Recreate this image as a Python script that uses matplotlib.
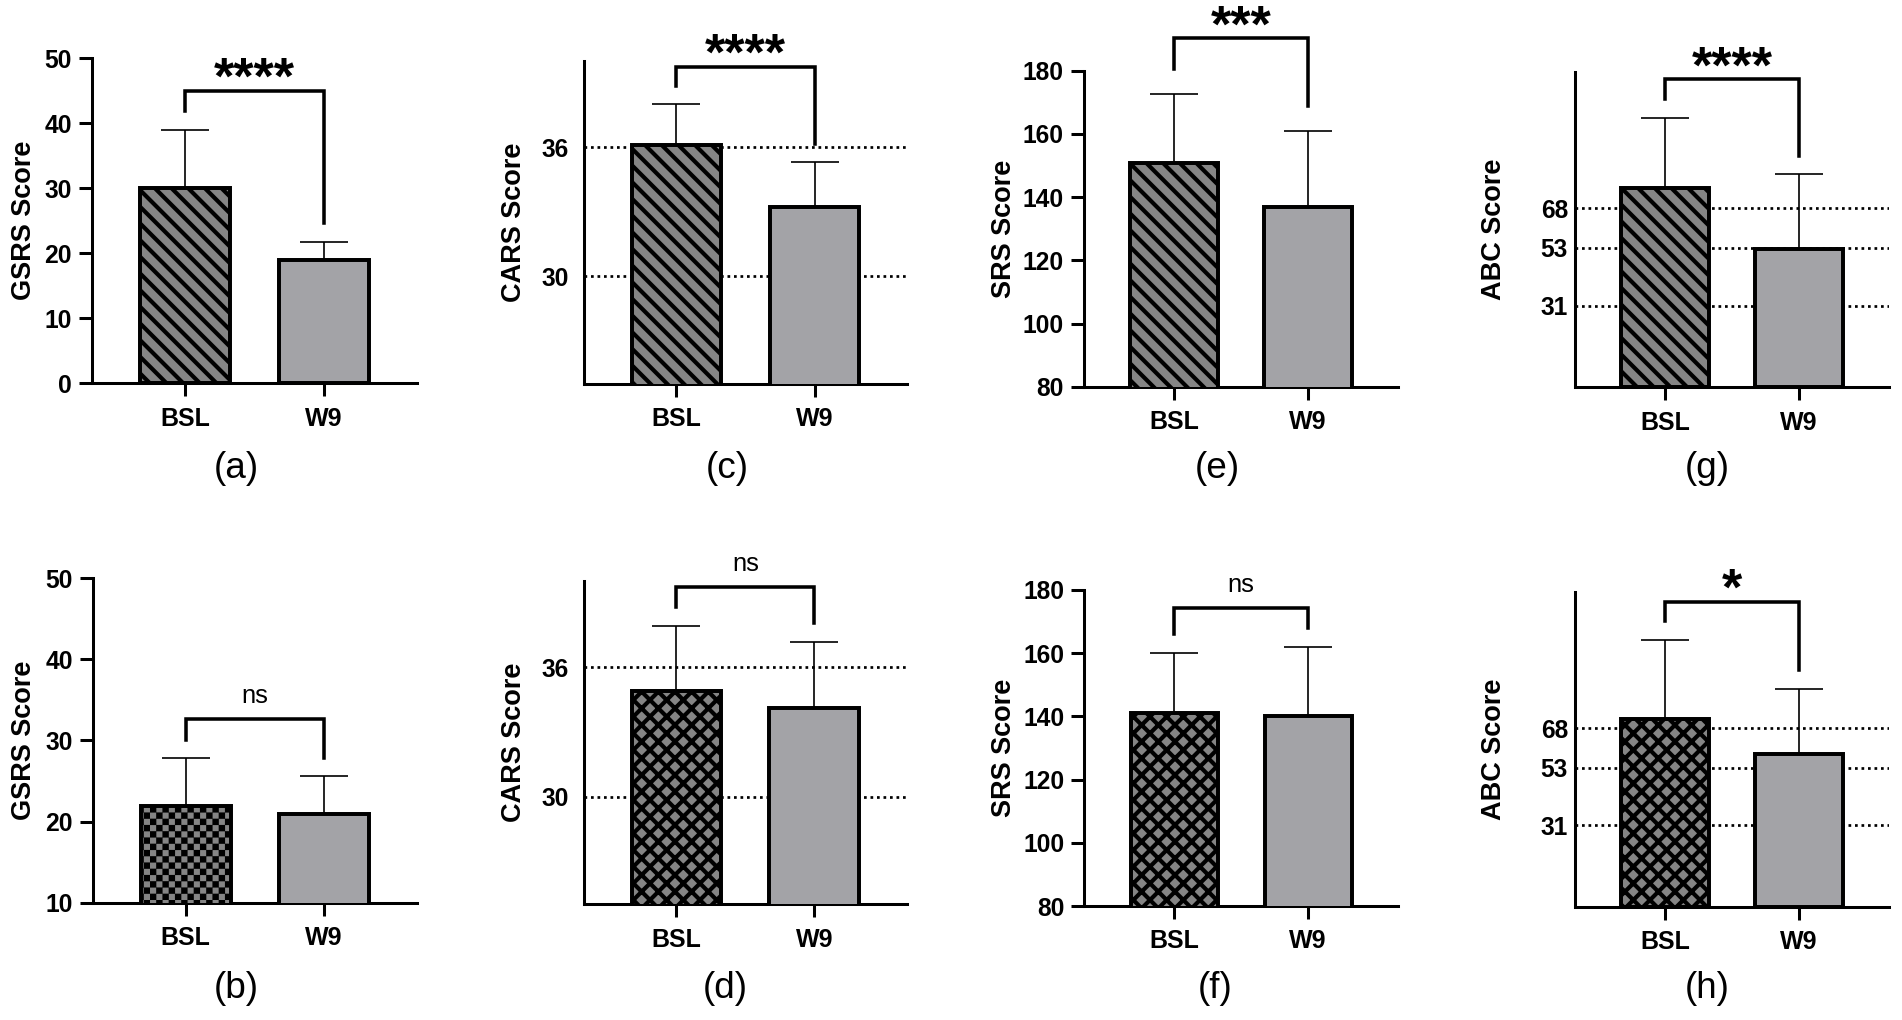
import matplotlib
matplotlib.use("Agg")
import matplotlib.pyplot as plt
import matplotlib.hatch as mhatch
from matplotlib.path import Path
import numpy as np

plt.rcParams['font.family'] = ['Liberation Sans', 'DejaVu Sans']
plt.rcParams['hatch.linewidth'] = 2.0

DPI = 150
W, H = 1902, 1020


class CheckerHatch(mhatch.HatchPatternBase):
    # chessboard of filled squares, takes the place of "." in this figure
    def __init__(self, hatch, density):
        self.num_cells = hatch.count('.') * density * 4
        self.num_vertices = (self.num_cells ** 2 // 2) * 5

    def set_vertices_and_codes(self, vertices, codes):
        n = self.num_cells
        d = 1.0 / n
        m = d * 0.32  # shrink a bit, the hatch stroke grows them back
        k = 0
        for i in range(n):
            for j in range(n):
                if (i + j) % 2:
                    continue
                x0, y0, x1, y1 = i * d + m, j * d + m, (i + 1) * d - m, (j + 1) * d - m
                vertices[k:k + 5] = [(x0, y0), (x1, y0), (x1, y1), (x0, y1), (x0, y0)]
                codes[k:k + 5] = [Path.MOVETO, Path.LINETO, Path.LINETO, Path.LINETO, Path.CLOSEPOLY]
                k += 5


mhatch._hatch_types[mhatch._hatch_types.index(mhatch.SmallFilledCircles)] = CheckerHatch

groups = ["BSL", "W9"]

gsrs_a_mean = [30.0, 18.9]
gsrs_a_sd = [8.9, 2.9]
gsrs_b_mean = [21.9, 20.9]
gsrs_b_sd = [6.0, 4.7]
cars_c_mean = [36.1, 33.2]
cars_c_sd = [1.9, 2.1]
cars_d_mean = [34.9, 34.1]
cars_d_sd = [3.0, 3.05]
srs_e_mean = [150.7, 137.0]
srs_e_sd = [21.8, 24.0]
srs_f_mean = [141.0, 140.2]
srs_f_sd = [19.2, 21.8]
abc_g_mean = [75.7, 52.7]
abc_g_sd = [26.7, 28.3]
abc_h_mean = [71.5, 58.1]
abc_h_sd = [30.2, 25.0]

# significance brackets: top, left leg end, right leg end, label
sig_a = [45.0, 41.9, 24.7, "****"]
sig_b = [32.65, 30.1, 27.9, "ns"]
sig_c = [39.74, 38.85, 36.15, "****"]
sig_d = [39.72, 38.8, 38.03, "ns"]
sig_e = [190.2, 180.5, 168.8, "***"]
sig_f = [174.2, 166.0, 167.9, "ns"]
sig_g = [117.1, 109.7, 87.8, "****"]
sig_h = [116.2, 109.0, 90.2, "*"]

gsrs_ticks_a = [0, 10, 20, 30, 40, 50]
gsrs_ticks_b = [10, 20, 30, 40, 50]
cars_ticks = [30, 36]
srs_ticks = [80, 100, 120, 140, 160, 180]
abc_ticks = [31, 53, 68]

hatch_gray = '#858585'
plain_gray = '#a3a3a7'
diag = '\\\\\\'
cross = 'xxx'

# box = left, right, top, bottom in pixels; ylab = right edge of y label in pixels
panels = [
    dict(tag="(a)", ylabel="GSRS Score", mean=gsrs_a_mean, sd=gsrs_a_sd, sig=sig_a, ticks=gsrs_ticks_a,
         ylim=(0, 50), ref=False, hatch=diag, box=(92, 417, 58.3, 383.3), ylab=37, tag_xy=(236, 469)),
    dict(tag="(b)", ylabel="GSRS Score", mean=gsrs_b_mean, sd=gsrs_b_sd, sig=sig_b, ticks=gsrs_ticks_b,
         ylim=(10, 50), ref=False, hatch='.', box=(92.7, 417, 578.3, 902.7), ylab=37, tag_xy=(236, 989)),
    dict(tag="(c)", ylabel="CARS Score", mean=cars_c_mean, sd=cars_c_sd, sig=sig_c, ticks=cars_ticks,
         ylim=(25, 40), ref=True, hatch=diag, box=(584, 907, 61, 384), ylab=527, tag_xy=(727, 469)),
    dict(tag="(d)", ylabel="CARS Score", mean=cars_d_mean, sd=cars_d_sd, sig=sig_d, ticks=cars_ticks,
         ylim=(25, 40), ref=True, hatch=cross, box=(584, 906.7, 581, 904.3), ylab=527, tag_xy=(725, 989)),
    dict(tag="(e)", ylabel="SRS Score", mean=srs_e_mean, sd=srs_e_sd, sig=sig_e, ticks=srs_ticks,
         ylim=(80, 180), ref=False, hatch=diag, box=(1084, 1398, 70.7, 386.7), ylab=1017, tag_xy=(1217, 469)),
    dict(tag="(f)", ylabel="SRS Score", mean=srs_f_mean, sd=srs_f_sd, sig=sig_f, ticks=srs_ticks,
         ylim=(80, 180), ref=False, hatch=cross, box=(1084.3, 1398, 590, 906), ylab=1017, tag_xy=(1215, 989)),
    dict(tag="(g)", ylabel="ABC Score", mean=abc_g_mean, sd=abc_g_sd, sig=sig_g, ticks=abc_ticks,
         ylim=(0, 120), ref=True, hatch=diag, box=(1575, 1889, 71.7, 387.3), ylab=1507, tag_xy=(1707, 469)),
    dict(tag="(h)", ylabel="ABC Score", mean=abc_h_mean, sd=abc_h_sd, sig=sig_h, ticks=abc_ticks,
         ylim=(0, 120), ref=True, hatch=cross, box=(1575, 1889, 591.7, 906.7), ylab=1507, tag_xy=(1707, 989)),
]

fig = plt.figure(figsize=(W / DPI, H / DPI), dpi=DPI)
fig.patch.set_facecolor('white')

x = np.arange(len(groups))
for p in panels:
    left, right, top, bottom = p["box"]
    ax = fig.add_axes([left / W, 1 - bottom / H, (right - left) / W, (bottom - top) / H])
    ax.set_xlim(-0.67, 1.67)
    ax.set_ylim(*p["ylim"])

    bars = ax.bar(x, p["mean"], width=0.65, color=[hatch_gray, plain_gray],
                  edgecolor='black', linewidth=1.9, zorder=3)
    bars[0].set_hatch(p["hatch"])
    ax.errorbar(x, p["mean"], yerr=[np.zeros(2), p["sd"]], fmt='none', ecolor='black',
                elinewidth=0.8, capsize=11.3, capthick=0.8, zorder=2)

    if p["ref"]:
        for t in p["ticks"]:
            ax.axhline(t, color='black', lw=1.3, dashes=(1, 1.4), zorder=1)

    top_y, l_end, r_end, label = p["sig"]
    ax.plot([0, 0, 1, 1], [l_end, top_y, top_y, r_end], color='black', lw=1.7,
            clip_on=False, solid_joinstyle='miter', zorder=4)
    if label == "ns":
        ax.annotate(label, xy=(0.5, top_y), xytext=(0, 7.7), textcoords='offset points',
                    ha='center', va='baseline', fontsize=12.3, annotation_clip=False)
    else:
        ax.annotate(label, xy=(0.5, top_y), xytext=(0, -1.5), textcoords='offset points',
                    ha='center', va='baseline', fontsize=25, fontweight='bold', annotation_clip=False)

    for s in ['top', 'right']:
        ax.spines[s].set_visible(False)
    for s in ['left', 'bottom']:
        ax.spines[s].set_linewidth(1.45)

    ax.set_xticks(x)
    ax.set_xticklabels(groups)
    ax.set_yticks(p["ticks"])
    ax.tick_params(axis='x', length=6.2, width=1.45, pad=5, labelsize=12)
    if p["ref"]:
        pad = 7.2 if p["ylim"] == (25, 40) else 3.4
        ax.tick_params(axis='y', length=0, pad=pad, labelsize=11.8)
    else:
        ax.tick_params(axis='y', length=6.2, width=1.45, pad=3.4, labelsize=11.8)
    for lab in ax.get_xticklabels() + ax.get_yticklabels():
        lab.set_fontweight('bold')

    ax.set_ylabel(p["ylabel"], fontsize=13, fontweight='bold')
    ax.yaxis.set_label_coords((p["ylab"] - left) / (right - left), 0.5)

    tx, ty = p["tag_xy"]
    fig.text(tx / W, 1 - ty / H, p["tag"], ha='center', va='center', fontsize=17.7)

fig.savefig("out.png", dpi=DPI, facecolor='white')
